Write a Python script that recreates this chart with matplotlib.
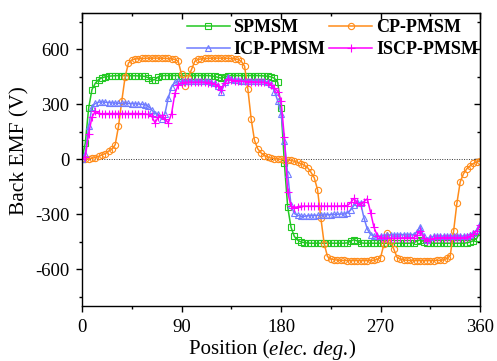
import numpy as np
import matplotlib.pyplot as plt

plt.rcParams['font.family'] = 'Liberation Serif'
plt.rcParams['axes.unicode_minus'] = False

# rotor position, elec. deg. (sampled every 3 deg)
position = np.arange(0, 361, 3)

spmsm = [0, 90, 280, 380, 415, 435, 445, 450, 453, 455,
         456, 457, 457, 457, 456, 456, 456, 455, 455, 452,
         445, 432, 435, 450, 456, 457, 457, 457, 457, 457,
         457, 457, 457, 457, 457, 457, 457, 457, 457, 455,
         452, 447, 443, 450, 456, 457, 457, 457, 457, 457,
         457, 457, 457, 457, 456, 455, 453, 450, 442, 420,
         280, -20, -260, -370, -420, -440, -450, -454, -456, -457,
         -457, -457, -457, -457, -457, -457, -457, -457, -457, -457,
         -455, -445, -438, -445, -455, -457, -457, -457, -457, -457,
         -457, -457, -457, -457, -457, -457, -457, -457, -457, -457,
         -455, -445, -438, -448, -456, -457, -457, -457, -457, -457,
         -457, -457, -457, -457, -457, -457, -455, -450, -443, -430,
         -395]

cp_pmsm = [0, 1, 3, 6, 10, 16, 24, 32, 45, 55,
           80, 180, 320, 450, 525, 542, 547, 549, 550, 551,
           552, 552, 552, 552, 552, 551, 550, 548, 545, 535,
           463, 400, 445, 490, 535, 545, 548, 550, 551, 552,
           552, 552, 552, 552, 551, 550, 548, 545, 535, 508,
           382, 219, 103, 57, 35, 20, 12, 7, 4, 2,
           0, -1, -3, -6, -10, -16, -24, -32, -45, -70,
           -100, -165, -320, -460, -530, -543, -547, -549, -550, -551,
           -552, -552, -552, -552, -552, -552, -552, -551, -550, -545,
           -535, -463, -400, -445, -490, -535, -545, -548, -550, -551,
           -552, -552, -552, -552, -552, -552, -552, -551, -550, -548,
           -540, -525, -393, -240, -123, -78, -51, -35, -22, -14,
           -8, -4, 0]
cp_pmsm = cp_pmsm[:121]

icp_pmsm = [0, 30, 180, 285, 305, 312, 313, 312, 310, 308,
            307, 306, 305, 305, 305, 304, 303, 302, 300, 298,
            290, 270, 250, 245, 220, 250, 335, 395, 420, 425,
            425, 426, 426, 427, 427, 427, 427, 426, 425, 422,
            415, 400, 365, 420, 450, 440, 435, 432, 430, 430,
            430, 430, 430, 428, 427, 425, 420, 410, 370, 320,
            250, 100, -80, -250, -295, -305, -310, -310, -308, -307,
            -306, -305, -304, -303, -302, -301, -300, -299, -298, -298,
            -292, -275, -250, -230, -240, -320, -380, -410, -418, -420,
            -418, -415, -413, -412, -411, -410, -410, -410, -410, -410,
            -410, -395, -366, -420, -440, -425, -420, -419, -418, -418,
            -418, -418, -418, -418, -418, -418, -415, -410, -400, -385,
            -350]

iscp_pmsm = [0, 15, 140, 230, 262, 252, 248, 250, 250, 250,
             250, 250, 250, 250, 250, 250, 250, 250, 249, 248,
             245, 235, 200, 230, 240, 220, 200, 250, 360, 405,
             418, 420, 420, 420, 420, 420, 420, 420, 419, 418,
             410, 400, 380, 415, 440, 435, 430, 428, 426, 425,
             424, 423, 422, 421, 420, 420, 415, 405, 390, 370,
             320, 120, -180, -255, -265, -258, -255, -255, -255, -255,
             -255, -255, -255, -255, -255, -255, -255, -255, -254, -253,
             -252, -235, -213, -240, -250, -230, -215, -290, -370, -415,
             -428, -430, -430, -430, -430, -430, -429, -428, -428, -428,
             -428, -410, -390, -430, -445, -435, -430, -428, -427, -426,
             -426, -426, -426, -426, -426, -426, -425, -418, -408, -390,
             -360]

W, H = 497, 361
fig = plt.figure(figsize=(W / 100, H / 100), dpi=100)
ax = fig.add_axes([0.165, 0.152, 0.801, 0.813])

ax.axhline(0, color='#333333', lw=0.7, ls=(0, (1, 1.5)), zorder=1)

common = dict(lw=1.1, mfc='none', mew=0.8)
l1, = ax.plot(position, spmsm, color='#22c822', marker='s', ms=4.5, label='SPMSM', **common)
l2, = ax.plot(position, cp_pmsm, color='#ff8c1a', marker='o', ms=4.5, label='CP-PMSM', **common)
l3, = ax.plot(position, icp_pmsm, color='#6f7cff', marker='^', ms=5, label='ICP-PMSM', **common)
l4, = ax.plot(position, iscp_pmsm, color='#ff00ff', marker='+', ms=6, label='ISCP-PMSM', **common)

xmaj = [0, 90, 180, 270, 360]
xmin = [45, 135, 225, 315]
ymaj = [-600, -300, 0, 300, 600]
ymin = [-750, -450, -150, 150, 450, 750]

ax.set_xlim(0, 360)
ax.set_ylim(-800, 800)
ax.set_xticks(xmaj)
ax.set_xticks(xmin, minor=True)
ax.set_yticks(ymaj)
ax.set_yticks(ymin, minor=True)
ax.tick_params(which='major', direction='out', length=4, width=1, labelsize=13.5, pad=5)
ax.tick_params(which='minor', direction='out', length=2.5, width=1)

top = ax.secondary_xaxis('top')
top.set_xticks(xmaj)
top.set_xticks(xmin, minor=True)
top.tick_params(which='both', direction='in', labeltop=False)
top.tick_params(which='major', length=4, width=1)
top.tick_params(which='minor', length=2.5, width=1)
right = ax.secondary_yaxis('right')
right.set_yticks(ymaj)
right.set_yticks(ymin, minor=True)
right.tick_params(which='both', direction='in', labelright=False)
right.tick_params(which='major', length=4, width=1)
right.tick_params(which='minor', length=2.5, width=1)

for s in ax.spines.values():
    s.set_linewidth(1)

ax.legend(handles=[l1, l3, l2, l4], ncol=2, frameon=False, loc='upper left',
          bbox_to_anchor=(0.258, 0.985), borderpad=0.0, borderaxespad=0.1,
          handlelength=2.4, handletextpad=0.2, columnspacing=0.2,
          labelspacing=0.3, prop={'weight': 'bold', 'size': 13})

# axis titles
fig.text(20 / W, 1 - 151 / H, 'Back EMF (V)', rotation=90, ha='center',
         va='center', fontsize=15.5)

parts = [('Position (', 'normal'), ('elec. deg.', 'italic'), (')', 'normal')]
fig.canvas.draw()
renderer = fig.canvas.get_renderer()
texts = [fig.text(0, 1 - 350 / H, s, style=st, fontsize=15, va='center', ha='left')
         for s, st in parts]
widths = [t.get_window_extent(renderer).width for t in texts]
x0 = 272 - sum(widths) / 2
for t, w in zip(texts, widths):
    t.set_x(x0 / W)
    x0 += w

fig.savefig('out.png', dpi=100)
